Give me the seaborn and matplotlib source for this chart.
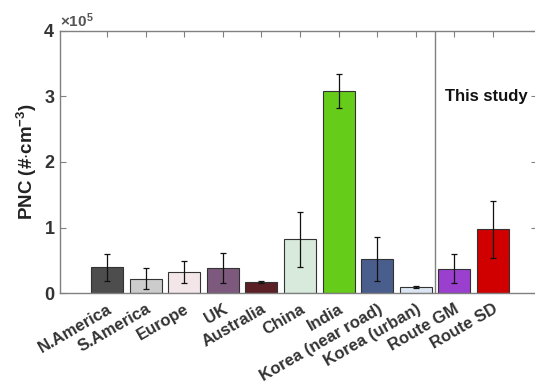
import matplotlib
matplotlib.use("Agg")
import matplotlib.pyplot as plt
import matplotlib.ticker as mticker
import seaborn as sns
import pandas as pd
import numpy as np

categories = ["N.America", "S.America", "Europe", "UK", "Australia", "China", "India",
              "Korea (near road)", "Korea (urban)", "Route GM", "Route SD"]
pnc_mean = [39000, 22000, 32000, 38000, 17000, 82000, 308000, 52000, 9000, 37000, 97000]
pnc_err = [20000, 16000, 17000, 23000, 1500, 42000, 26000, 33000, 2000, 22000, 44000]
bar_colors = ["#4d4d4d", "#cccccc", "#f3e6e9", "#7d5a7d", "#5a2026", "#d8eadb", "#66cc1a",
              "#4a5e8e", "#dce6f2", "#9b3fcf", "#d00000"]

sns.set_style("white")
plt.rcParams['font.family'] = ['Liberation Sans', 'DejaVu Sans']
plt.rcParams['font.weight'] = 'bold'
plt.rcParams['mathtext.fontset'] = 'custom'
plt.rcParams['mathtext.rm'] = 'Liberation Sans:bold'
plt.rcParams['mathtext.it'] = 'Liberation Sans:bold'
plt.rcParams['mathtext.bf'] = 'Liberation Sans:bold'

df = pd.DataFrame({"cat": categories, "pnc": pnc_mean, "err": pnc_err})

fig = plt.figure(figsize=(5.35, 3.86), dpi=100)
ax = fig.add_axes([60/535, 1-293/386, (537-60)/535, (293-31)/386])

sns.barplot(data=df, x="cat", y="pnc", hue="cat", palette=bar_colors, order=categories,
            hue_order=categories, legend=False, width=0.83, edgecolor="#333333",
            linewidth=0.8, ax=ax, errorbar=None, saturation=1)
ax.errorbar(np.arange(len(categories)), df["pnc"], yerr=df["err"], fmt="none",
            ecolor="#111111", elinewidth=0.9, capsize=2.0, capthick=0.9, zorder=5)

ax.axvline(8.5, color="#808080", lw=1.0)
ax.text(8.76, 3.0e5, "This study", fontsize=12, fontweight="bold", ha="left", va="center",
        color="#111111")

ax.set_xlim(-1.22, 11.14)
ax.set_ylim(0, 4e5)
ax.set_yticks([0, 1e5, 2e5, 3e5, 4e5])
fmt = mticker.ScalarFormatter(useMathText=True)
fmt.set_powerlimits((0, 0))
ax.yaxis.set_major_formatter(fmt)
ax.yaxis.get_offset_text().set_fontsize(11)
ax.yaxis.get_offset_text().set_color("#555555")

ax.set_xlabel("")
ax.set_ylabel("PNC (#$\\cdot$cm$^{-3}$)", fontsize=13.5, fontweight="bold", color="#222222",
              labelpad=3)
ax.set_xticks(range(len(categories)))
ax.set_xticklabels(categories, rotation=30, ha="right", rotation_mode="anchor",
                   fontsize=12, fontweight="bold", color="#333333")
for lbl in ax.get_yticklabels():
    lbl.set_fontsize(13)
    lbl.set_fontweight("bold")
    lbl.set_color("#333333")

ax.tick_params(axis="both", direction="in", length=4, width=0.8, color="#808080",
               top=True, right=True, bottom=True, left=True)
ax.tick_params(axis="x", pad=6)
for s in ax.spines.values():
    s.set_color("#808080")
    s.set_linewidth(1.0)

fig.savefig("out.png", dpi=100)
